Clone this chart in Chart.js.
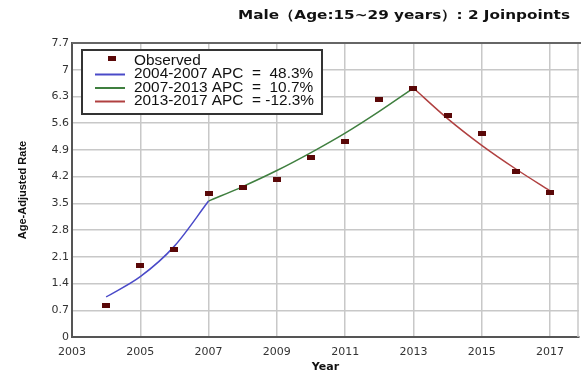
<!DOCTYPE html>
<html>
<head>
<meta charset="utf-8">
<script src="https://cdn.jsdelivr.net/npm/chart.js@4/dist/chart.umd.min.js"></script>
<style>
  html, body { margin: 0; padding: 0; background: #fff; }
  #wrap { width: 584px; height: 374px; }
</style>
</head>
<body>
<div id="wrap"><canvas id="c" width="584" height="374"></canvas></div>
<script>
// Joinpoint regression: observed age-adjusted rates and fitted segments
const chartTitle = 'Male（Age:15~29 years）: 2 Joinpoints';

const years = [2004, 2005, 2006, 2007, 2008, 2009, 2010, 2011, 2012, 2013, 2014, 2015, 2016, 2017];
const observed = [0.82, 1.87, 2.30, 3.75, 3.92, 4.13, 4.70, 5.13, 6.21, 6.52, 5.79, 5.33, 4.33, 3.79];

const seg1Years = [2004, 2005, 2006, 2007];
const seg1Fit = [1.05, 1.58, 2.38, 3.56];
const seg2Years = [2007, 2008, 2009, 2010, 2011, 2012, 2013];
const seg2Fit = [3.56, 3.94, 4.36, 4.83, 5.34, 5.91, 6.52];
const seg3Years = [2013, 2014, 2015, 2016, 2017];
const seg3Fit = [6.52, 5.72, 5.02, 4.40, 3.83];

const segLabels = ['2004-2007 APC  =  48.3%', '2007-2013 APC  =  10.7%', '2013-2017 APC  = -12.3%'];

const xTicks = [2003, 2005, 2007, 2009, 2011, 2013, 2015, 2017];
const xMax = 2017.85;
const yTicks = [0, 0.7, 1.4, 2.1, 2.8, 3.5, 4.2, 4.9, 5.6, 6.3, 7, 7.7];

const pairs = (xs, ys) => xs.map((x, i) => ({ x: x, y: ys[i] }));

// small rectangular marker for the observed points
const marker = document.createElement('canvas');
marker.width = 8; marker.height = 5;
(function () {
  const g = marker.getContext('2d');
  g.fillStyle = '#5a0808';
  g.fillRect(0, 0, 8, 5);
})();

const blue = '#4a4ac8';
const green = '#3f7f3f';
const red = '#b04040';

// draw text stretched horizontally
function wideText(ctx, text, x, y, scaleX, align) {
  ctx.save();
  ctx.translate(x, y);
  ctx.scale(scaleX, 1);
  ctx.textAlign = align;
  ctx.fillText(text, 0, 0);
  ctx.restore();
}

// title above the plot, top frame line and the closing grid line on the right
const framePlugin = {
  id: 'jpFrame',
  beforeDatasetsDraw(chart) {
    const ctx = chart.ctx;
    const a = chart.chartArea;
    ctx.save();
    ctx.strokeStyle = '#c8c8c8';
    ctx.lineWidth = 1.5;
    ctx.beginPath();
    ctx.moveTo(a.right - 1, a.top);
    ctx.lineTo(a.right - 1, a.bottom);
    ctx.stroke();
    ctx.restore();
  },
  afterDraw(chart) {
    const ctx = chart.ctx;
    const a = chart.chartArea;
    ctx.save();
    ctx.strokeStyle = '#666';
    ctx.lineWidth = 2;
    ctx.beginPath();
    ctx.moveTo(a.left, a.top);
    ctx.lineTo(a.right + 2, a.top);
    ctx.stroke();
    ctx.font = 'bold 13px "DejaVu Sans", Verdana, sans-serif';
    ctx.fillStyle = '#111';
    ctx.textBaseline = 'middle';
    const w = ctx.measureText(chartTitle).width;
    wideText(ctx, chartTitle, 238, 16, 332 / w, 'left');
    ctx.restore();
  }
};

// boxed legend inside the plot
const boxLegend = {
  id: 'boxLegend',
  afterDatasetsDraw(chart) {
    const ctx = chart.ctx;
    const a = chart.chartArea;
    const x0 = a.left + 10, y0 = a.top + 7, w = 240, h = 64;
    ctx.save();
    ctx.fillStyle = '#fff';
    ctx.fillRect(x0, y0, w, h);
    ctx.strokeStyle = '#333';
    ctx.lineWidth = 2;
    ctx.strokeRect(x0, y0, w, h);
    ctx.font = '14px "Liberation Sans", Arial, sans-serif';
    ctx.textBaseline = 'middle';
    const wMax = Math.max(...chart.data.datasets.map(d => ctx.measureText(d.label).width));
    const sx = 180 / wMax;
    chart.data.datasets.forEach((ds, i) => {
      const cy = y0 + 11 + i * 13.5;
      if (i === 0) {
        ctx.drawImage(marker, x0 + 26, cy - 5);
      } else {
        ctx.strokeStyle = ds.borderColor;
        ctx.lineWidth = 2;
        ctx.beginPath();
        ctx.moveTo(x0 + 13, cy);
        ctx.lineTo(x0 + 43, cy);
        ctx.stroke();
      }
      ctx.fillStyle = '#111';
      wideText(ctx, ds.label, x0 + 52, cy, sx, 'left');
    });
    ctx.restore();
  }
};

new Chart(document.getElementById('c'), {
  type: 'line',
  data: {
    datasets: [
      {
        label: 'Observed',
        data: pairs(years, observed),
        showLine: false,
        pointStyle: marker,
        pointRadius: 4,
        order: 0
      },
      {
        label: segLabels[0],
        data: pairs(seg1Years, seg1Fit),
        borderColor: blue,
        borderWidth: 1.5,
        pointRadius: 0,
        cubicInterpolationMode: 'monotone',
        order: 1
      },
      {
        label: segLabels[1],
        data: pairs(seg2Years, seg2Fit),
        borderColor: green,
        borderWidth: 1.5,
        pointRadius: 0,
        cubicInterpolationMode: 'monotone',
        order: 1
      },
      {
        label: segLabels[2],
        data: pairs(seg3Years, seg3Fit),
        borderColor: red,
        borderWidth: 1.5,
        pointRadius: 0,
        cubicInterpolationMode: 'monotone',
        order: 1
      }
    ]
  },
  options: {
    responsive: false,
    animation: false,
    layout: { padding: { top: 43, right: 2, left: 0, bottom: 0 } },
    plugins: {
      legend: { display: false },
      tooltip: { enabled: false },
      title: { display: false }
    },
    scales: {
      x: {
        type: 'linear',
        min: 2003,
        max: xMax,
        afterBuildTicks: s => { s.ticks = xTicks.map(v => ({ value: v })); },
        afterFit: s => { s.height = 37; },
        ticks: {
          color: '#333',
          font: { family: '"DejaVu Sans", Verdana, sans-serif', size: 11 },
          padding: 9,
          maxRotation: 0,
          callback: v => String(v)
        },
        grid: { color: '#c8c8c8', lineWidth: 1.5, drawTicks: false },
        border: { color: '#555', width: 2 },
        title: {
          display: true,
          text: 'Year',
          color: '#111',
          font: { family: '"DejaVu Sans", Verdana, sans-serif', size: 11, weight: 'bold' },
          padding: { top: 0, bottom: 0 }
        }
      },
      y: {
        min: 0,
        max: 7.7,
        afterBuildTicks: s => { s.ticks = yTicks.map(v => ({ value: v })); },
        afterFit: s => { s.width = 72; },
        ticks: {
          color: '#333',
          font: { family: '"DejaVu Sans", Verdana, sans-serif', size: 11 },
          padding: 3,
          callback: v => String(Number(v.toFixed(1)))
        },
        grid: { color: '#c8c8c8', lineWidth: 1.5, drawTicks: false },
        border: { color: '#555', width: 2 },
        title: {
          display: true,
          text: 'Age-Adjusted Rate',
          color: '#111',
          font: { family: '"Liberation Sans Narrow", "Liberation Sans", Arial, sans-serif', size: 11, weight: 'bold' },
          padding: { top: 16, bottom: 0 }
        }
      }
    }
  },
  plugins: [framePlugin, boxLegend]
});
</script>
</body>
</html>
